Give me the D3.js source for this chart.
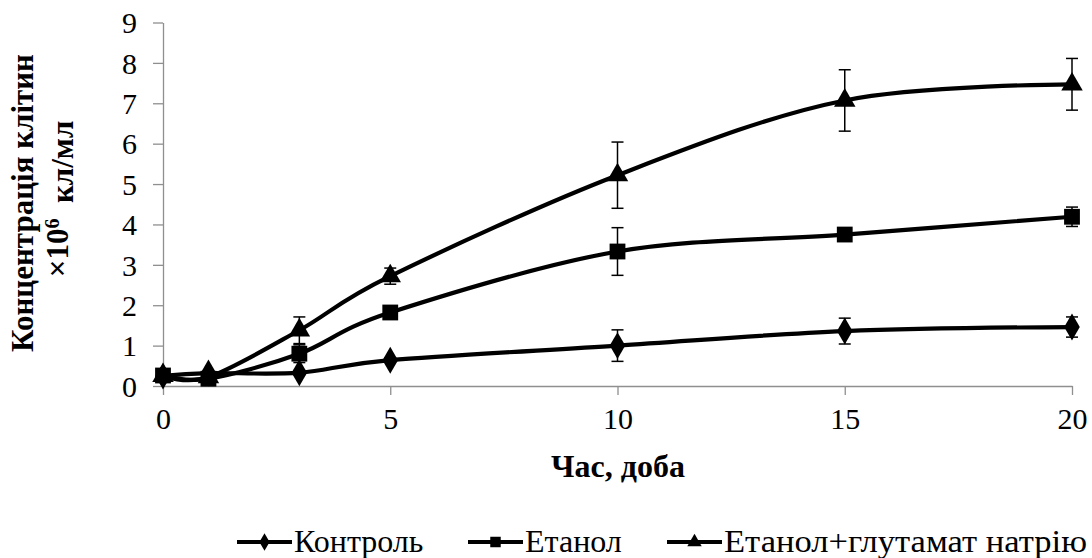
<!DOCTYPE html>
<html><head><meta charset="utf-8">
<script src="https://cdn.jsdelivr.net/npm/d3@7"></script>
<style>
html,body{margin:0;padding:0;background:#fff;}
svg{display:block;}
</style></head>
<body>
<svg id="chart" width="1092" height="558"></svg>
<script>
const days = [0, 1, 3, 5, 10, 15, 20];
const seriesNames = ["Контроль", "Етанол", "Етанол+глутамат натрію"];
const controlValues = [0.25, 0.32, 0.33, 0.64, 1.0, 1.36, 1.46];
const controlErrors = [0, 0, 0.05, 0.05, 0.39, 0.32, 0.25];
const ethanolValues = [0.26, 0.18, 0.8, 1.82, 3.33, 3.75, 4.19];
const ethanolErrors = [0, 0, 0.22, 0.1, 0.59, 0.1, 0.24];
const glutamateValues = [0.25, 0.22, 1.38, 2.72, 5.22, 7.07, 7.47];
const glutamateErrors = [0, 0, 0.33, 0.2, 0.82, 0.76, 0.64];
const xTicks = [0, 5, 10, 15, 20];
const yTicks = [0, 1, 2, 3, 4, 5, 6, 7, 8, 9];
const markerTypes = [d3.symbolDiamond, d3.symbolSquare, d3.symbolTriangle];

const series = [
  {name: seriesNames[0], values: controlValues, errors: controlErrors, symbol: markerTypes[0], size: 210, lsize: 90},
  {name: seriesNames[1], values: ethanolValues, errors: ethanolErrors, symbol: markerTypes[1], size: 250, lsize: 110},
  {name: seriesNames[2], values: glutamateValues, errors: glutamateErrors, symbol: markerTypes[2], size: 200, lsize: 90}
];

const svg = d3.select("#chart");
const x = d3.scaleLinear().domain([0, 20]).range([163, 1072]);
const y = d3.scaleLinear().domain([0, 9]).range([386, 22.5]);
const axisColor = "#8f8f8f";
const FONT = '"Liberation Serif"';

// Y axis
const yAxis = svg.append("g").attr("transform", `translate(${x(0)},0)`)
  .call(d3.axisLeft(y).tickValues(yTicks).tickSize(10).tickSizeOuter(0).tickPadding(16).tickFormat(d3.format("d")));
yAxis.select(".domain").attr("stroke", axisColor).attr("stroke-width", 1.3);
yAxis.selectAll(".tick line").attr("stroke", axisColor).attr("stroke-width", 1.3);
yAxis.selectAll(".tick text").attr("fill", "#000").style("font-size", "30px")
  .style("font-family", FONT).attr("dy", "0.34em");

// X axis
const xAxis = svg.append("g").attr("transform", `translate(0,${y(0)})`)
  .call(d3.axisBottom(x).tickValues(xTicks).tickSize(9).tickSizeOuter(0).tickPadding(16).tickFormat(d3.format("d")));
xAxis.select(".domain").attr("stroke", axisColor).attr("stroke-width", 1.3);
xAxis.selectAll(".tick line").attr("stroke", axisColor).attr("stroke-width", 1.3);
xAxis.selectAll(".tick text").attr("fill", "#000").style("font-size", "30px")
  .style("font-family", FONT).attr("dy", "0.6em");

// Lines
const line = d3.line().x((d, i) => x(days[i])).y(d => y(d)).curve(d3.curveCardinal.tension(0));
series.forEach(s => {
  svg.append("path").datum(s.values).attr("d", line)
    .attr("fill", "none").attr("stroke", "#000").attr("stroke-width", 4.2).attr("stroke-linejoin", "round");
});

// Error bars
series.forEach(s => {
  const g = svg.append("g");
  s.values.forEach((v, i) => {
    const e = s.errors[i];
    if (!e) return;
    const cx = x(days[i]);
    g.append("line").attr("x1", cx).attr("x2", cx).attr("y1", y(v - e)).attr("y2", y(v + e))
      .attr("stroke", "#000").attr("stroke-width", 1.5);
    [v - e, v + e].forEach(t => {
      g.append("line").attr("x1", cx - 6).attr("x2", cx + 6).attr("y1", y(t)).attr("y2", y(t))
        .attr("stroke", "#000").attr("stroke-width", 1.5);
    });
  });
});

// Markers
series.forEach(s => {
  svg.append("g").selectAll("path").data(s.values).join("path")
    .attr("d", d3.symbol().type(s.symbol).size(s.size))
    .attr("transform", (d, i) => `translate(${x(days[i])},${y(d)})`)
    .attr("fill", "#000");
});

// Y title
const yTitle = svg.append("text")
  .attr("transform", "translate(33,203) rotate(-90)")
  .attr("text-anchor", "middle").style("font-family", FONT).style("font-weight", "bold").style("font-size", "31px");
yTitle.append("tspan").attr("x", 0).attr("y", 0).text("Концентрація  клітин");
const yTitle2 = svg.append("text")
  .attr("transform", "translate(68,199) rotate(-90)")
  .attr("text-anchor", "middle").style("font-family", FONT).style("font-weight", "bold").style("font-size", "31px");
yTitle2.append("tspan").text("×10");
yTitle2.append("tspan").attr("dy", "-0.45em").style("font-size", "20px").text("6");
yTitle2.append("tspan").attr("dy", "0.45em").text("\u00a0\u00a0кл/мл");

// X title
svg.append("text").attr("x", 618).attr("y", 477).attr("text-anchor", "middle")
  .style("font-family", FONT).style("font-weight", "bold").style("font-size", "32px").text("Час, доба");

// Legend
const legendX = [237, 468, 667];
const legendTextLen = [null, null, 363];
const legendY = 542;
series.forEach((s, i) => {
  const g = svg.append("g").attr("transform", `translate(${legendX[i]},${legendY})`);
  g.append("line").attr("x1", 0).attr("x2", 55).attr("y1", 0).attr("y2", 0)
    .attr("stroke", "#000").attr("stroke-width", 4.2);
  g.append("path").attr("d", d3.symbol().type(s.symbol).size(s.lsize)).attr("transform", "translate(27.5,0)").attr("fill", "#000");
  const t = g.append("text").attr("x", 57).attr("y", 10).style("font-family", FONT).style("font-size", "32px").text(s.name);
  if (legendTextLen[i]) t.attr("textLength", legendTextLen[i]).attr("lengthAdjust", "spacingAndGlyphs");
});
</script>
</body></html>
